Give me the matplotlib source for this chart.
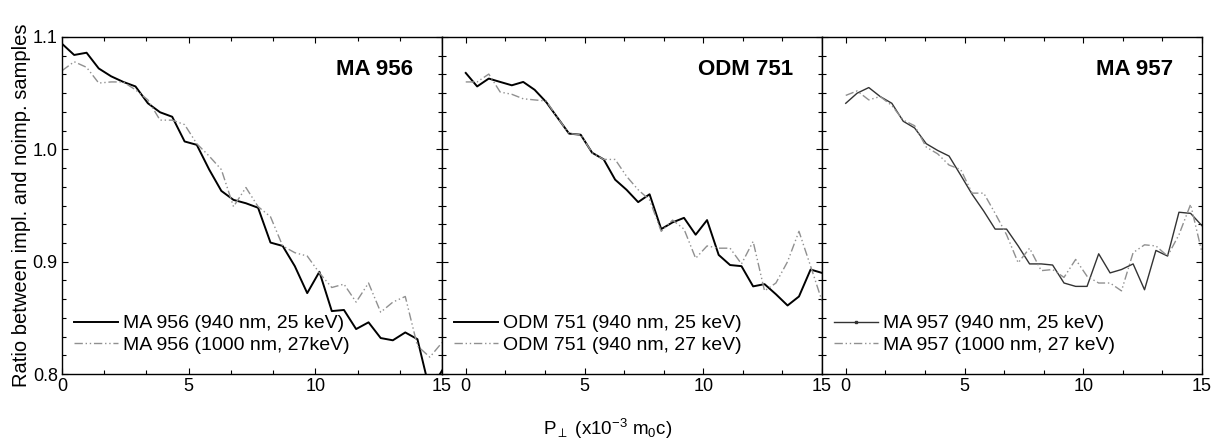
import matplotlib.pyplot as plt
from matplotlib.lines import Line2D
from matplotlib.ticker import MultipleLocator

plt.rcParams['font.family'] = ['Liberation Sans', 'DejaVu Sans']
plt.rcParams['mathtext.fontset'] = 'custom'
plt.rcParams['mathtext.rm'] = 'Liberation Sans'
plt.rcParams['mathtext.it'] = 'Liberation Sans'

# x positions of the points (x10^-3 m0c)
p = [0.00, 0.48, 0.97, 1.45, 1.94, 2.42, 2.90, 3.39, 3.87, 4.35, 4.84,
     5.32, 5.81, 6.29, 6.77, 7.26, 7.74, 8.23, 8.71, 9.19, 9.68, 10.16,
     10.65, 11.13, 11.61, 12.10, 12.58, 13.06, 13.55, 14.03, 14.52, 15.00]

ma956_25 = [1.094, 1.084, 1.086, 1.072, 1.065, 1.060, 1.056, 1.041, 1.033, 1.029,
            1.007, 1.004, 0.982, 0.963, 0.955, 0.952, 0.948, 0.917, 0.914, 0.896,
            0.872, 0.891, 0.856, 0.857, 0.840, 0.846, 0.832, 0.830, 0.837, 0.831,
            0.785, 0.803]
ma956_27 = [1.070, 1.078, 1.073, 1.059, 1.060, 1.060, 1.053, 1.044, 1.026, 1.026,
            1.022, 1.005, 0.994, 0.982, 0.949, 0.966, 0.949, 0.940, 0.914, 0.908,
            0.905, 0.890, 0.877, 0.880, 0.864, 0.881, 0.855, 0.864, 0.869, 0.825,
            0.815, 0.828]

odm751_25 = [1.068, 1.056, 1.063, 1.060, 1.057, 1.060, 1.053, 1.042, 1.028, 1.014,
             1.013, 0.997, 0.991, 0.973, 0.964, 0.953, 0.960, 0.929, 0.935, 0.939,
             0.924, 0.937, 0.906, 0.897, 0.896, 0.878, 0.880, 0.871, 0.861, 0.869,
             0.893, 0.890]
odm751_27 = [1.060, 1.060, 1.067, 1.051, 1.049, 1.045, 1.044, 1.043, 1.028, 1.014,
             1.013, 0.997, 0.991, 0.991, 0.976, 0.964, 0.955, 0.927, 0.937, 0.929,
             0.903, 0.914, 0.912, 0.912, 0.898, 0.918, 0.874, 0.881, 0.900, 0.927,
             0.896, 0.865]

ma957_25 = [1.041, 1.050, 1.055, 1.047, 1.041, 1.025, 1.019, 1.005, 0.999, 0.994,
            0.977, 0.960, 0.945, 0.929, 0.929, 0.914, 0.898, 0.898, 0.897, 0.881,
            0.878, 0.878, 0.907, 0.890, 0.893, 0.898, 0.875, 0.910, 0.905, 0.944,
            0.943, 0.932]
ma957_27 = [1.048, 1.052, 1.044, 1.047, 1.039, 1.026, 1.021, 1.002, 0.996, 0.986,
            0.982, 0.961, 0.961, 0.943, 0.924, 0.899, 0.912, 0.892, 0.893, 0.886,
            0.902, 0.887, 0.881, 0.881, 0.874, 0.908, 0.915, 0.914, 0.905, 0.924,
            0.951, 0.908]

panels = [
    ('MA 956', ma956_25, ma956_27,
     'MA 956 (940 nm, 25 keV)', 'MA 956 (1000 nm, 27keV)', (0, 15)),
    ('ODM 751', odm751_25, odm751_27,
     'ODM 751 (940 nm, 25 keV)', 'ODM 751 (940 nm, 27 keV)', (-1, 15)),
    ('MA 957', ma957_25, ma957_27,
     'MA 957 (940 nm, 25 keV)', 'MA 957 (1000 nm, 27 keV)', (-1, 15)),
]

fig = plt.figure(figsize=(12.13, 4.44), dpi=100)
lefts = [62 / 1213, 442 / 1213, 822 / 1213]
w = 380 / 1213
b = 1 - 374 / 444
h = 337 / 444

dashdot = (0, (6, 2, 1, 2, 1, 2))

for i, (name, s1, s2, l1, l2, xl) in enumerate(panels):
    ax = fig.add_axes([lefts[i], b, w, h])
    if i < 2:
        ax.plot(p, s1, color='black', lw=1.4)
        h1 = Line2D([], [], color='black', lw=1.4)
    else:
        ax.plot(p, s1, color='#333333', lw=1.0)
        h1 = Line2D([], [], color='#333333', lw=1.0, marker='s', markersize=2)
    ax.plot(p, s2, color='#909090', lw=1.0, linestyle=dashdot)
    h2 = Line2D([], [], color='#909090', lw=1.0, linestyle=dashdot)

    ax.set_xlim(*xl)
    ax.set_ylim(0.8, 1.1)
    ax.xaxis.set_major_locator(MultipleLocator(5))
    ax.xaxis.set_minor_locator(MultipleLocator(5 / 3))
    ax.yaxis.set_major_locator(MultipleLocator(0.1))
    ax.yaxis.set_minor_locator(MultipleLocator(0.1 / 6))
    ax.tick_params(which='both', direction='in', top=True, right=True,
                   width=0.8, labelsize=13, pad=3)
    ax.tick_params(which='major', length=4)
    ax.tick_params(which='minor', length=3)
    for sp in ax.spines.values():
        sp.set_linewidth(1.0)
    if i == 0:
        ax.set_yticks([0.8, 0.9, 1.0, 1.1])
        ax.set_yticklabels(['0.8', '0.9', '1.0', '1.1'])
        ax.set_ylabel('Ratio between impl. and noimp. samples', fontsize=14.5, labelpad=1)
    else:
        ax.tick_params(labelleft=False)
    ax.set_xticks([0, 5, 10, 15])

    ax.text(0.925, 0.905, name, transform=ax.transAxes, ha='right', va='center',
            fontsize=16, fontweight='bold')
    ax.legend([h1, h2], [l1, l2], loc='lower left', bbox_to_anchor=(0.0, 0.025),
              frameon=False, fontsize=14, handlelength=2.3, handletextpad=0.25,
              labelspacing=0.2, borderaxespad=0.2)

fig.text(0.501, 0.035, r'P$_{\perp}$ (x10$^{-3}$ m$_0$c)', ha='center', va='center',
         fontsize=13.5)

fig.savefig('out.png', dpi=100)
